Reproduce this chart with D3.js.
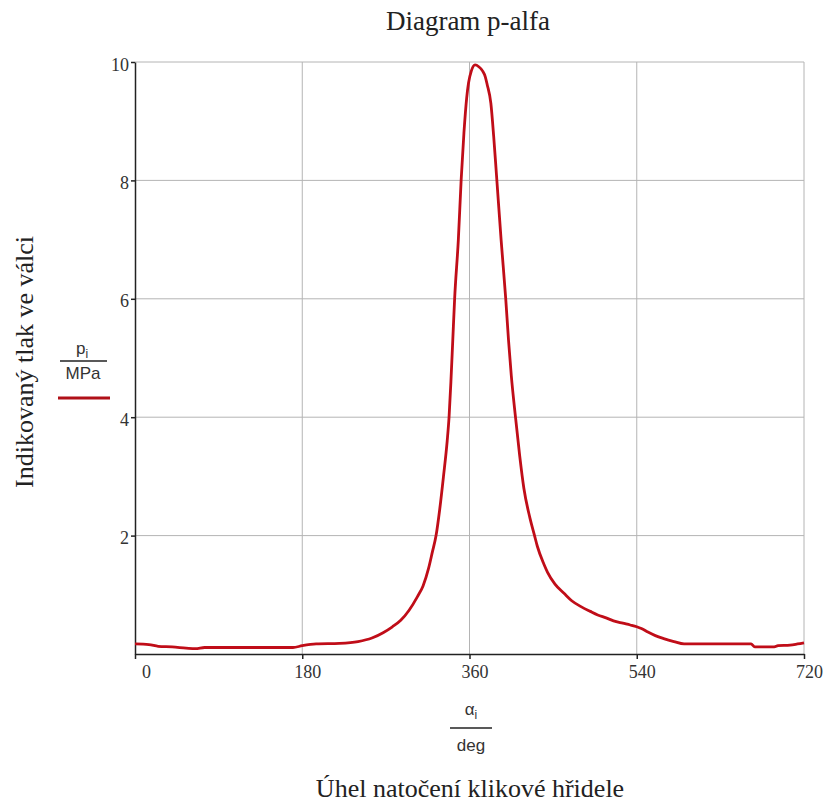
<!DOCTYPE html>
<html><head><meta charset="utf-8">
<script src="https://cdn.jsdelivr.net/npm/d3@7"></script>
<style>body{margin:0;background:#fff;} svg{display:block;}</style>
</head><body>
<script>
const angles = [0,15,25,40,55,65,75,100,130,170,180,195,220,240,255,267,277,286,295,304,310,316,320,324,328,332,336,338,340,342,344,348,351,354,357,359,362,366,370,374,377,379,383,386,389,394,399,402,405,409.5,414,418.5,425,430,433,440,444,452,462,470,480,490,498,507,515,525,533,540,545,552,560,569,580,591,620,650,663,667,688,692,705,713,720];
const pressures = [0.17,0.16,0.13,0.12,0.10,0.09,0.11,0.11,0.11,0.11,0.14,0.17,0.18,0.21,0.27,0.36,0.46,0.57,0.74,0.97,1.15,1.45,1.72,2.0,2.45,3.0,3.6,4.0,4.6,5.3,6.0,7.0,8.0,8.8,9.4,9.65,9.85,9.95,9.92,9.85,9.75,9.62,9.3,8.75,8.1,7.0,6.0,5.3,4.7,4.0,3.35,2.8,2.3,2.0,1.82,1.52,1.38,1.18,1.02,0.9,0.8,0.72,0.66,0.61,0.56,0.52,0.49,0.46,0.43,0.37,0.31,0.26,0.21,0.17,0.17,0.17,0.17,0.12,0.12,0.14,0.15,0.17,0.19];
const xTicks = [0,180,360,540,720];
const yTicks = [2,4,6,8,10];
const title = "Diagram p-alfa";
const yTitle = "Indikovaný tlak ve válci";
const xTitle = "Úhel natočení klikové hřidele";

const W = 829, H = 803;
const svg = d3.select("body").append("svg").attr("width", W).attr("height", H);
const x = d3.scaleLinear().domain([0,720]).range([135,804]);
const y = d3.scaleLinear().domain([0,10]).range([654,62]);
const serif = "'Liberation Serif','Times New Roman',serif";
const sans = "'Liberation Sans',Arial,sans-serif";

// grid
const g = svg.append("g");
g.selectAll("line.vg").data(xTicks.slice(1)).join("line")
  .attr("x1", d=>x(d)).attr("x2", d=>x(d)).attr("y1", y(10)).attr("y2", y(0))
  .attr("stroke", "#b4b4b4").attr("stroke-width", 1);
g.selectAll("line.hg").data(yTicks).join("line")
  .attr("x1", x(0)).attr("x2", x(720)).attr("y1", d=>y(d)).attr("y2", d=>y(d))
  .attr("stroke", "#b4b4b4").attr("stroke-width", 1);

// axes
const xAxis = d3.axisBottom(x).tickValues(xTicks).tickSize(5).tickSizeOuter(0).tickFormat(d3.format("d"));
const xa = svg.append("g").attr("transform", `translate(0,${y(0)})`).call(xAxis);
xa.select(".domain").attr("stroke", "#222").attr("stroke-width", 1.5);
xa.selectAll(".tick line").attr("stroke", "#222").attr("stroke-width", 1.5);
xa.selectAll(".tick text").attr("font-family", serif).attr("font-size", 18).attr("fill", "#333")
  .attr("dx", d => d === 0 ? 11 : 5).attr("dy", "0.9em");

const yAxis = d3.axisLeft(y).tickValues(yTicks).tickSize(4).tickSizeOuter(0).tickPadding(2).tickFormat(d3.format("d"));
const ya = svg.append("g").attr("transform", `translate(${x(0)},0)`).call(yAxis);
ya.select(".domain").attr("stroke", "#222").attr("stroke-width", 1.5);
ya.selectAll(".tick line").attr("stroke", "#222").attr("stroke-width", 1.5);
ya.selectAll(".tick text").attr("font-family", serif).attr("font-size", 18).attr("fill", "#333").attr("dy", "0.45em");

// curve
const data = angles.map((a,i)=>({a, p: pressures[i]}));
svg.append("path").datum(data)
  .attr("fill", "none").attr("stroke", "#c00d18").attr("stroke-width", 2.8)
  .attr("stroke-linejoin", "round")
  .attr("d", d3.line().x(d=>x(d.a)).y(d=>y(d.p)).curve(d3.curveMonotoneX));

// title
svg.append("text").attr("x", 468).attr("y", 30).attr("text-anchor", "middle")
  .attr("font-family", serif).attr("font-size", 27).attr("fill", "#222").text(title);

// y title
svg.append("text").attr("transform", "translate(33,362) rotate(-90)").attr("text-anchor", "middle")
  .attr("font-family", serif).attr("font-size", 26).attr("fill", "#222").text(yTitle);

// legend p_i / MPa
const lg = svg.append("g");
const pt = lg.append("text").attr("x", 82).attr("y", 354).attr("text-anchor", "middle")
  .attr("font-family", sans).attr("font-size", 17).attr("fill", "#333");
pt.append("tspan").text("p");
pt.append("tspan").attr("font-size", 12).attr("dy", 4).text("i");
lg.append("line").attr("x1", 60).attr("x2", 107).attr("y1", 361).attr("y2", 361).attr("stroke", "#222").attr("stroke-width", 1.3);
lg.append("text").attr("x", 83).attr("y", 379).attr("text-anchor", "middle")
  .attr("font-family", sans).attr("font-size", 17).attr("fill", "#333").text("MPa");
lg.append("line").attr("x1", 58).attr("x2", 110).attr("y1", 398).attr("y2", 398).attr("stroke", "#b01018").attr("stroke-width", 2.8);

// x label alpha_i / deg
const at = svg.append("text").attr("x", 471).attr("y", 715).attr("text-anchor", "middle")
  .attr("font-family", sans).attr("font-size", 17).attr("fill", "#333");
at.append("tspan").text("α");
at.append("tspan").attr("font-size", 12).attr("dy", 4).text("i");
svg.append("line").attr("x1", 450).attr("x2", 492).attr("y1", 728).attr("y2", 728).attr("stroke", "#222").attr("stroke-width", 1.3);
svg.append("text").attr("x", 471).attr("y", 751).attr("text-anchor", "middle")
  .attr("font-family", sans).attr("font-size", 17).attr("fill", "#333").text("deg");

// x title
svg.append("text").attr("x", 470).attr("y", 797).attr("text-anchor", "middle")
  .attr("font-family", serif).attr("font-size", 26).attr("fill", "#222").text(xTitle);
</script>
</body></html>
